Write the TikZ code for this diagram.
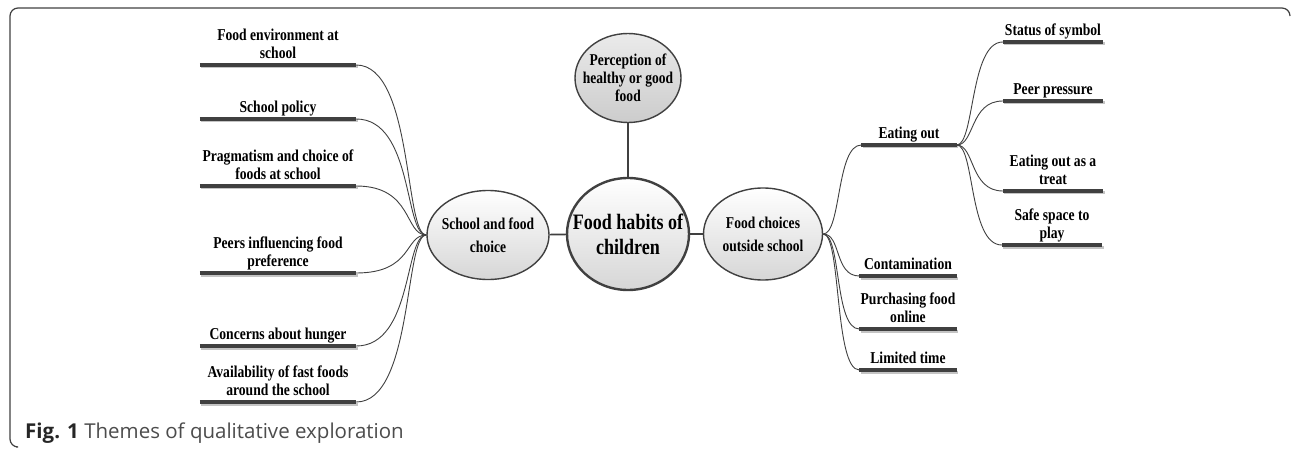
\documentclass[tikz,border=0pt]{standalone}
\usepackage{fontspec}
\setmainfont{Liberation Serif}
\setsansfont{Open Sans}
\newfontfamily\narrowserif[FakeStretch=0.82]{Liberation Serif}
\usetikzlibrary{shapes.geometric}
\definecolor{ink}{HTML}{404040}
\definecolor{barshade}{HTML}{C4C4C4}

\newcommand{\themefont}{\narrowserif\fontsize{16.6}{18}\selectfont\bfseries}

\tikzset{
  topic/.style={font=\themefont, align=center, inner xsep=0pt, inner ysep=1.3pt,
    anchor=south, minimum width=#1, execute at end node=\strut},
  topic/.default=156,
  bar/.style={draw=ink, line width=3.6pt},
  barshadow/.style={draw=barshade, line width=3pt},
  link/.style={draw=ink, line width=0.9pt},
  bubble/.style={ellipse, draw=ink, line width=1.4pt, inner sep=0pt,
    top color=white, bottom color=black!16},
  bubbletext/.style={font=\narrowserif\fontsize{16.5}{23}\selectfont\bfseries, align=center, inner sep=0pt},
}

\begin{document}
\begin{tikzpicture}[x=1pt,y=-1pt]
\useasboundingbox (0,0) rectangle (1292,449);
% frame of the figure
\draw[black!75, line width=1.2pt, rounded corners=8pt] (1290,16) |- (10,8) |- (16,447);

% centre and main themes
\node[bubble, line width=2.4pt, minimum width=122, minimum height=112] (habits) at (628,234) {};
\node[bubbletext, font=\narrowserif\fontsize{22}{25}\selectfont\bfseries] (habitst) at (habits) {Food habits of\\children};
\node[bubble, minimum width=106, minimum height=89, top color=black!8, bottom color=black!20] (percept) at (628,78) {};
\node[bubbletext, font=\narrowserif\fontsize{16.5}{18}\selectfont\bfseries] (perceptt) at (percept) {Perception of\\healthy or good\\food};
\node[bubble, minimum width=122, minimum height=89] (school) at (488,235) {};
\node[bubbletext] (schoolt) at (school) {School and food\\choice};
\node[bubble, minimum width=119, minimum height=92] (outside) at (763,234) {};
\node[bubbletext] (outsidet) at (outside) {Food choices\\outside school};

\draw[link, line width=1.6pt] (percept) -- (habits);
\draw[link, line width=1.6pt] (school) -- (habits);
\draw[link, line width=1.6pt] (habits) -- (outside);

% school side
\node[topic] (env) at (278,65) {Food environment at\\school};
\node[topic] (policy) at (278,119) {School policy};
\node[topic] (prag) at (278,186) {Pragmatism and choice of\\foods at school};
\node[topic] (peers) at (278,273) {Peers influencing food\\preference};
\node[topic] (hunger) at (278,346) {Concerns about hunger};
\node[topic] (avail) at (278,402) {Availability of fast foods\\around the school};

% outside school side
\node[topic=95] (eat) at (909,145) {Eating out};
\node[topic=97] (contam) at (908,276) {Contamination};
\node[topic=97] (purch) at (908,329) {Purchasing food\\online};
\node[topic=97] (limit) at (908,370) {Limited time};
\node[topic=100] (status) at (1053,42) {Status of symbol};
\node[topic=100] (peer) at (1053,101) {Peer pressure};
\node[topic=100] (treat) at (1053,191) {Eating out as a\\treat};
\node[topic=100] (safe) at (1052,245) {Safe space to\\play};

\foreach \n in {env,policy,prag,peers,hunger,avail,eat,contam,purch,limit,status,peer,treat,safe} {
  \draw[barshadow] ([shift={(1.5,2)}]\n.south west) -- ([shift={(1.5,2)}]\n.south east);
  \draw[bar] (\n.south west) -- (\n.south east);
}

\foreach \n in {env,policy,prag,peers,hunger,avail}
  \draw[link] (\n.south east) .. controls +(57,0) and +(-22,0) .. (school.west);
\foreach \n in {eat,contam,purch,limit}
  \draw[link] (outside.east) .. controls +(18,0) and +(-25,0) .. (\n.south west);
\foreach \n in {status,peer,treat,safe}
  \draw[link] (eat.south east) .. controls +(18,0) and +(-33,0) .. (\n.south west);

% caption
\node[anchor=base west, inner sep=0pt, text=black!70,
  font=\sffamily\fontsize{20.5}{24}\selectfont] (caption) at (25,438)
  {\textbf{\color{black!85}Fig. 1} Themes of qualitative exploration};
\end{tikzpicture}
\end{document}
